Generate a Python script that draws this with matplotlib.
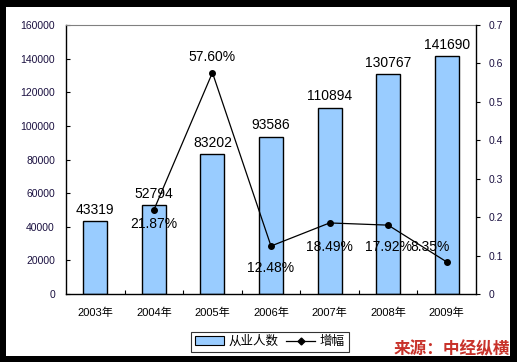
import matplotlib
matplotlib.use("Agg")
import matplotlib.pyplot as plt
from matplotlib.patches import Rectangle
from matplotlib.lines import Line2D
from matplotlib.patches import Patch

plt.rcParams['font.family'] = ['Liberation Sans', 'Noto Sans CJK SC', 'DejaVu Sans']

years = ['2003年', '2004年', '2005年', '2006年', '2007年', '2008年', '2009年']
employees = [43319, 52794, 83202, 93586, 110894, 130767, 141690]
growth = [None, 0.2187, 0.576, 0.1248, 0.1849, 0.1792, 0.0835]
growth_labels = ['', '21.87%', '57.60%', '12.48%', '18.49%', '17.92%', '8.35%']

W, H = 517, 362
fig = plt.figure(figsize=(W/100, H/100), dpi=100)
fig.patch.set_facecolor('black')
fig.add_artist(Rectangle((6/W, 6/H), (510-6)/W, (355-6)/H, transform=fig.transFigure,
                         facecolor='white', edgecolor='none', zorder=0))

ax = fig.add_axes([66/W, (H-294)/H, (476-66)/W, (294-25)/H])
ax.set_facecolor('none')
x = list(range(len(years)))
ax.bar(x, employees, width=0.41, color='#99CCFF', edgecolor='black', linewidth=1.0, zorder=2)
ax.set_xlim(-0.5, 6.5)
ax.set_ylim(0, 160000)
ax.set_yticks(range(0, 160001, 20000))
ax.set_yticklabels([str(v) for v in range(0, 160001, 20000)], fontsize=7.5, color='#1a1040')
ax.tick_params(axis='y', direction='in', length=3, width=0.8, pad=8)
ax.set_xticks(x)
ax.set_xticklabels(years, fontsize=8)
ax.tick_params(axis='x', length=0, pad=10)
ax.set_xticks([i + 0.5 for i in range(6)], minor=True)
ax.tick_params(axis='x', which='minor', direction='in', length=3, width=0.8)
ax.spines['top'].set_color('#808080')
ax.spines['right'].set_visible(False)
for s in ['left', 'bottom']:
    ax.spines[s].set_linewidth(1.0)

for xi, v in zip(x, employees):
    ax.annotate(str(v), (xi, v), xytext=(0, 3), textcoords='offset points',
                ha='center', va='bottom', fontsize=10)

ax2 = ax.twinx()
ax2.set_position(ax.get_position())
gx = [xi for xi, g in zip(x, growth) if g is not None]
gy = [g for g in growth if g is not None]
ax2.plot(gx, gy, color='black', linewidth=0.9, marker='o', markersize=4, zorder=3)
ax2.set_ylim(0, 0.7)
ax2.set_yticks([0, 0.1, 0.2, 0.3, 0.4, 0.5, 0.6, 0.7])
ax2.set_yticklabels(['0', '0.1', '0.2', '0.3', '0.4', '0.5', '0.6', '0.7'], fontsize=7.5, color='#1a1040')
ax2.tick_params(axis='y', direction='out', length=3, width=0.8, pad=6)
ax2.spines['top'].set_visible(False)
ax2.spines['left'].set_visible(False)
ax2.spines['bottom'].set_visible(False)
ax2.spines['right'].set_linewidth(1.0)

offsets = {1: (0, -10), 2: (0, 11), 3: (0, -16), 4: (0, -17), 5: (0, -16), 6: (-12, 11)}
for i, (g, lab) in enumerate(zip(growth, growth_labels)):
    if g is None:
        continue
    dx, dy = offsets[i]
    ax2.annotate(lab, (i, g), xytext=(dx, dy), textcoords='offset points',
                 ha='center', va='center', fontsize=10)

handles = [Patch(facecolor='#99CCFF', edgecolor='black', linewidth=0.8),
           Line2D([0], [0], color='black', linewidth=0.9, marker='D', markersize=3.5)]
leg = fig.legend(handles, ['从业人数', '增幅'], loc='center', bbox_to_anchor=(270/W, (H-342)/H),
                 ncol=2, fontsize=9, frameon=True, fancybox=False, edgecolor='black',
                 handlelength=2.3, handletextpad=0.4, columnspacing=0.6, borderpad=0.3)
leg.get_frame().set_linewidth(0.8)

fig.text(452/W, (H-349)/H, '来源：中经纵横', color='#C8322A', fontsize=12, fontweight='bold',
         ha='center', va='center', family=['Noto Sans CJK SC', 'DejaVu Sans'])

fig.savefig('out.png', dpi=100, facecolor=fig.get_facecolor())
